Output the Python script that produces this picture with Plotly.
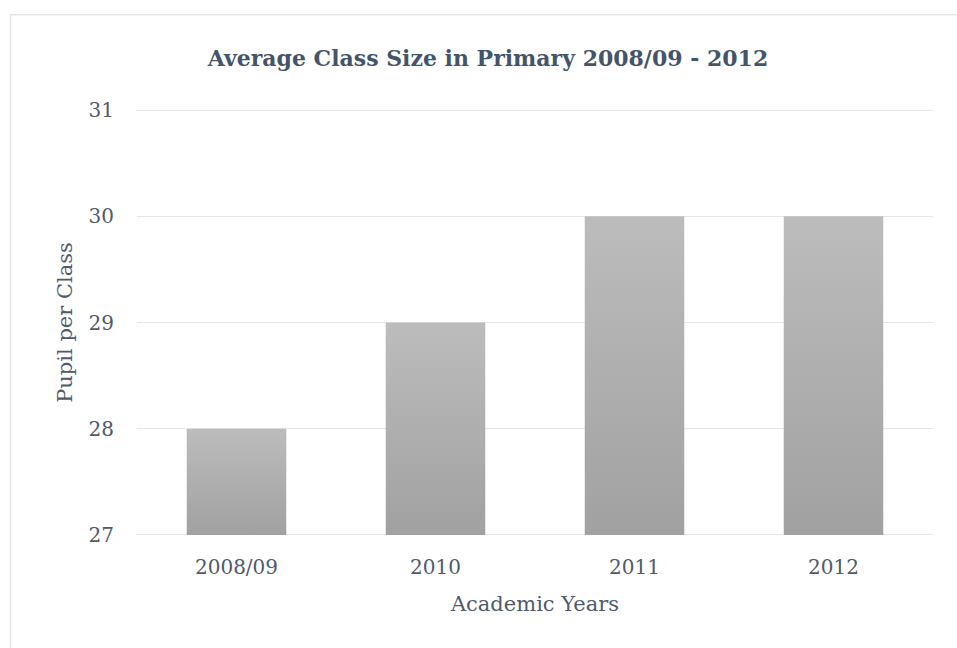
import plotly.graph_objects as go

# Data
years = ["2008/09", "2010", "2011", "2012"]
class_size = [28, 29, 30, 30]
y_ticks = [27, 28, 29, 30, 31]

AXIS_BASE = 27
BAR_HALF = 0.25
TEXT = "#44546a"
TICK = "#505a6b"
GRID = "#e4e6ea"
FONT = "DejaVu Serif"

fig = go.Figure()

# Each bar drawn as a filled polygon so it can carry a vertical gradient
for i, v in enumerate(class_size):
    fig.add_trace(go.Scatter(
        x=[i - BAR_HALF, i - BAR_HALF, i + BAR_HALF, i + BAR_HALF, i - BAR_HALF],
        y=[AXIS_BASE, v, v, AXIS_BASE, AXIS_BASE],
        mode="lines",
        line=dict(width=0),
        fill="toself",
        fillgradient=dict(
            type="vertical",
            colorscale=[[0, "#a1a1a1"], [1, "#bcbcbc"]],
        ),
        hoverinfo="skip",
        showlegend=False,
    ))

# small padding so the gridlines at 27 and 31 are drawn
pad = 0.02
px_per_unit = 106.25
L, R = 137, 24
T = 110 - pad * px_per_unit
B = 113 - pad * px_per_unit
W, H = 957, 648
pw, ph = W - L - R, H - T - B

# Outer chart border (left and top edges visible)
fig.add_shape(
    type="rect", xref="paper", yref="paper",
    x0=(10.5 - L) / pw, x1=1.3,
    y0=-0.6, y1=(H - B - 14.5) / ph,
    line=dict(color="#e3e5e9", width=1.5),
    fillcolor="rgba(0,0,0,0)", layer="below",
)

fig.update_layout(
    width=W, height=H,
    margin=dict(l=L, r=R, t=T, b=B),
    paper_bgcolor="white", plot_bgcolor="white",
    font=dict(family=FONT, color=TICK, size=20),
    title=dict(
        text="<b>Average Class Size in Primary 2008/09 - 2012</b>",
        x=488 / W, xref="container", xanchor="center",
        y=1 - 58 / H, yanchor="middle",
        font=dict(family=FONT, size=22, color=TEXT),
    ),
    xaxis=dict(
        range=[-0.5, len(years) - 0.5],
        tickvals=list(range(len(years))),
        ticktext=years,
        showgrid=False, zeroline=False,
        showline=False,
        ticks="outside", ticklen=12, tickcolor="rgba(0,0,0,0)",
        tickfont=dict(size=20, color=TICK),
        title=dict(text="Academic Years", font=dict(size=21, color=TICK), standoff=18),
        fixedrange=True,
    ),
    yaxis=dict(
        range=[y_ticks[0] - pad, y_ticks[-1] + pad],
        tickvals=y_ticks,
        showgrid=True, gridcolor=GRID, gridwidth=1.3,
        zeroline=False, showline=False,
        ticks="outside", ticklen=18, tickcolor="rgba(0,0,0,0)",
        tickfont=dict(size=20, color=TICK),
        title=dict(text="Pupil per Class", font=dict(size=21, color=TICK), standoff=10),
        fixedrange=True,
    ),
)

fig.write_html("out.html")
